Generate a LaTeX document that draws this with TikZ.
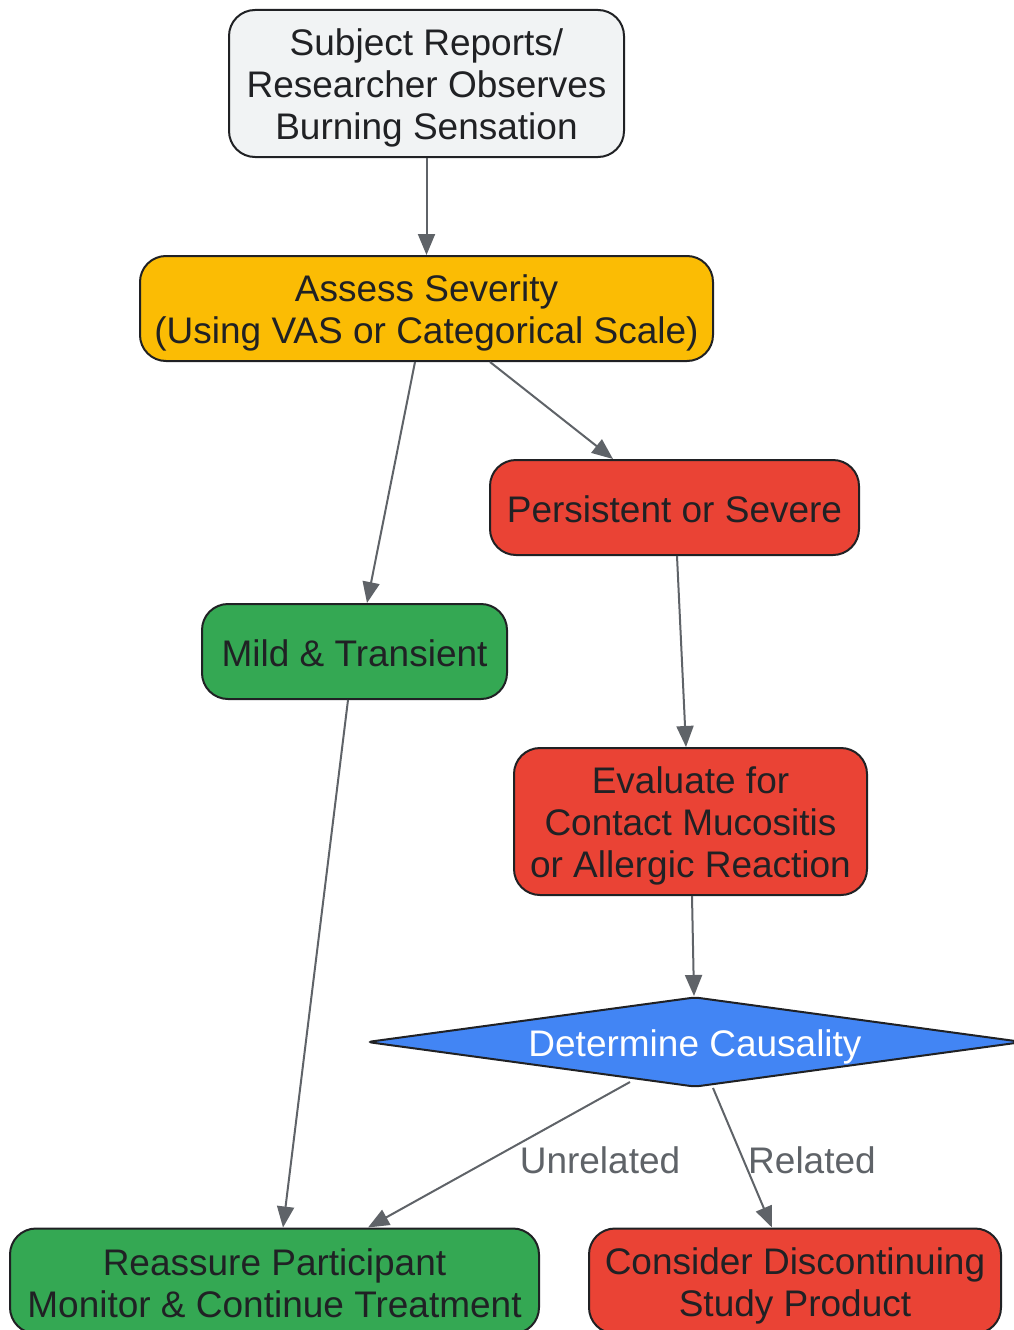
\documentclass[tikz,border=0pt]{standalone}
\usepackage{fontspec}
\setmainfont{Liberation Sans}
\usetikzlibrary{arrows.meta,shapes.geometric}
\definecolor{startgray}{HTML}{F1F3F4}
\definecolor{sevyellow}{HTML}{FBBC04}
\definecolor{alertred}{HTML}{EA4335}
\definecolor{okgreen}{HTML}{34A853}
\definecolor{causeblue}{HTML}{4285F4}
\definecolor{edgegray}{HTML}{5F6368}
\definecolor{inkdark}{HTML}{202124}
\newcommand{\linestrut}{\rule[-6pt]{0pt}{42pt}}
\begin{document}
\begin{tikzpicture}[x=1pt, y=-1pt,
    box/.style={draw=inkdark, line width=2pt, rounded corners=26pt, inner sep=0pt,
        align=center, text=inkdark, font=\fontsize{37}{42}\selectfont,
        execute at end node=\linestrut},
    decision/.style={draw=inkdark, line width=2pt, diamond, shape aspect=7.27,
        rounded corners=5pt, inner sep=0pt, fill=causeblue, text=white,
        font=\fontsize{37}{42}\selectfont,
        execute at end node=\linestrut},
    flow/.style={draw=edgegray, line width=2pt, -{Triangle[length=21pt,width=17pt]}},
    elabel/.style={text=edgegray, font=\fontsize{37}{42}\selectfont, inner sep=0pt}]
    \useasboundingbox (0,0) rectangle (1014,1330);
    % Report and severity
    \node[box, fill=startgray, minimum width=395pt, minimum height=147pt] (report) at (426.5,83.5) {\linestrut Subject Reports/\\Researcher Observes\\Burning Sensation};
    \node[box, fill=sevyellow, minimum width=573pt, minimum height=105pt] (severity) at (426.5,308.5) {\linestrut Assess Severity\\(Using VAS or Categorical Scale)};

    % Severity branches
    \node[box, fill=alertred, minimum width=369pt, minimum height=95pt] (severe) at (674.5,507.5) {\linestrut Persistent or Severe};
    \node[box, fill=okgreen, minimum width=305pt, minimum height=95pt] (mild) at (354.5,651.5) {\linestrut Mild \& Transient};
    \node[box, fill=alertred, minimum width=353pt, minimum height=147pt] (evaluate) at (690.5,821.5) {\linestrut Evaluate for\\Contact Mucositis\\or Allergic Reaction};

    % Causality
    \node[decision, minimum width=656pt, minimum height=90pt] (causality) at (695,1042) {\linestrut Determine Causality};

    % Outcomes
    \node[box, fill=okgreen, minimum width=529pt, minimum height=105pt] (reassure) at (274.5,1281) {\linestrut Reassure Participant\\Monitor \& Continue Treatment};
    \node[box, fill=alertred, minimum width=412pt, minimum height=105pt] (discontinue) at (795,1281) {\linestrut Consider Discontinuing\\Study Product};

    % Edge labels
    \node[elabel] (unrelated) at (600,1160) {Unrelated};
    \node[elabel] (related) at (812,1160) {Related};

    % Connections
    \draw[flow] (report.south) -- (severity.north);
    \draw[flow] ([xshift=63.5pt]severity.south) -- ([xshift=-61.5pt]severe.north);
    \draw[flow] ([xshift=-11.5pt]severity.south) -- ([xshift=12.5pt]mild.north);
    \draw[flow] ([xshift=2.5pt]severe.south) -- ([xshift=-4.5pt]evaluate.north);
    \draw[flow] ([xshift=-6.5pt]mild.south) -- ([xshift=8.5pt]reassure.north);
    \draw[flow] ([xshift=1.5pt]evaluate.south) -- ([xshift=-1pt]causality.north);
    \draw[flow] ([xshift=-65pt,yshift=6pt]causality.south) -- ([xshift=93.5pt]reassure.north);
    \draw[flow] ([xshift=18pt]causality.south) -- ([xshift=-23pt]discontinue.north);
\end{tikzpicture}
\end{document}
